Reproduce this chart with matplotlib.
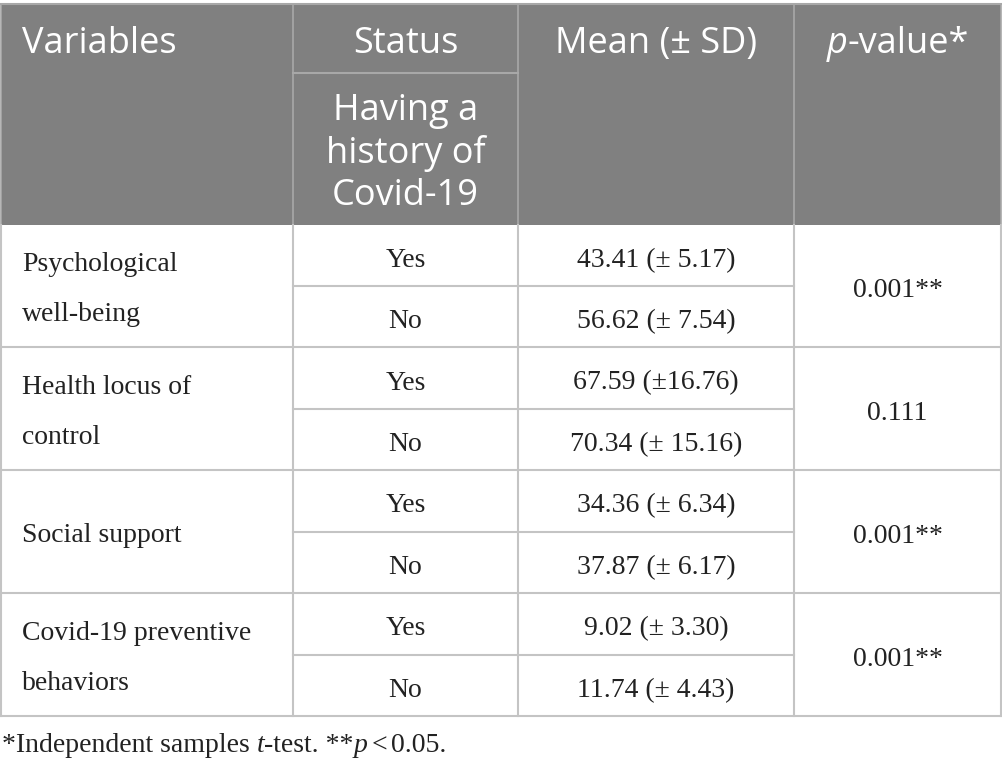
import matplotlib
matplotlib.use("Agg")
import matplotlib.pyplot as plt

# table content
variables = ["Psychological\nwell-being", "Health locus of\ncontrol", "Social support",
             "Covid-19 preventive\nbehaviors"]
status = ["Yes", "No"]
means = [["43.41 (\u00b1 5.17)", "56.62 (\u00b1 7.54)"],
         ["67.59 (\u00b116.76)", "70.34 (\u00b1 15.16)"],
         ["34.36 (\u00b1 6.34)", "37.87 (\u00b1 6.17)"],
         ["9.02 (\u00b1 3.30)", "11.74 (\u00b1 4.43)"]]
p_values = ["0.001**", "0.111", "0.001**", "0.001**"]
header_sub = ["Having a", "history of", "Covid-19"]

W, H = 1003, 770
fig = plt.figure(figsize=(W / 100, H / 100), dpi=100)
ax = fig.add_axes([0, 0, 1, 1])
ax.set_xlim(0, W)
ax.set_ylim(H, 0)
ax.axis("off")

HEAD_FONT = "Open Sans"
BODY_FONT = "Liberation Serif"
HS = 26
BS = 20
TXT = "#222222"

cols = [1, 293, 518, 794, 1001]
top, sub_y, head_bot, bot = 4, 73, 224.5, 716
row_h = (bot - head_bot) / 8
head_bg = "#808080"
head_line = "#a8a8a8"
body_line = "#c4c4c4"

# header
ax.add_patch(plt.Rectangle((cols[0], top), cols[-1] - cols[0], head_bot - top,
                           facecolor=head_bg, edgecolor="none"))
ax.plot([cols[0], cols[-1]], [top, top], color=head_line, lw=1.5)
for x in cols:
    ax.plot([x, x], [top, head_bot], color=head_line, lw=1.2)
ax.plot([cols[1], cols[2]], [sub_y, sub_y], color=head_line, lw=1.5)

renderer = fig.canvas.get_renderer()


def seg_text(x, y, segs, size, family, color, align="center"):
    # segs: list of (text, italic, gap)
    pieces = []
    total = 0
    for s, it, gap in segs:
        t = ax.text(0, y, s, fontsize=size, family=family, color=color,
                    style="italic" if it else "normal", va="baseline", ha="left")
        w = t.get_window_extent(renderer).width
        pieces.append((t, gap, w))
        total += gap + w
    cur = x - total / 2 if align == "center" else x
    for t, gap, w in pieces:
        cur += gap
        t.set_x(cur)
        cur += w


ax.text(22, 53, "Variables", fontsize=HS, family=HEAD_FONT, color="white", va="baseline")
ax.text((cols[1] + cols[2]) / 2, 53, "Status", fontsize=HS, family=HEAD_FONT,
        color="white", va="baseline", ha="center")
ax.text((cols[2] + cols[3]) / 2, 53, "Mean (\u00b1 SD)", fontsize=HS, family=HEAD_FONT,
        color="white", va="baseline", ha="center")
seg_text((cols[3] + cols[4]) / 2, 53, [("p", True, 0), ("-value*", False, 0)],
         HS, HEAD_FONT, "white")
for i, line in enumerate(header_sub):
    ax.text((cols[1] + cols[2]) / 2, 120 + i * 42.5, line, fontsize=HS, family=HEAD_FONT,
            color="white", va="baseline", ha="center")

# body grid
for x in cols:
    ax.plot([x, x], [head_bot, bot], color=body_line, lw=1.5)
for r in range(1, 9):
    y = head_bot + r * row_h
    if r % 2 == 0:
        ax.plot([cols[0], cols[-1]], [y, y], color=body_line, lw=1.5)
    else:
        ax.plot([cols[1], cols[3]], [y, y], color=body_line, lw=1.5)

for g, var in enumerate(variables):
    block_c = head_bot + (2 * g + 1) * row_h
    lines = var.split("\n")
    if len(lines) == 2:
        ax.text(22, block_c + 10 - 25, lines[0], fontsize=BS, family=BODY_FONT,
                color=TXT, va="baseline")
        ax.text(22, block_c + 10 + 25, lines[1], fontsize=BS, family=BODY_FONT,
                color=TXT, va="baseline")
    else:
        ax.text(22, block_c + 10, var, fontsize=BS, family=BODY_FONT,
                color=TXT, va="baseline")
    for k in range(2):
        rc = head_bot + (2 * g + k + 0.5) * row_h
        ax.text((cols[1] + cols[2]) / 2, rc + 11.5, status[k], fontsize=BS,
                family=BODY_FONT, color=TXT, va="baseline", ha="center")
        ax.text((cols[2] + cols[3]) / 2, rc + 11.5, means[g][k], fontsize=BS,
                family=BODY_FONT, color=TXT, va="baseline", ha="center")
    ax.text((cols[3] + cols[4]) / 2, block_c + 11.5, p_values[g], fontsize=BS,
            family=BODY_FONT, color=TXT, va="baseline", ha="center")

# footnote
seg_text(2, 752, [("*Independent samples", False, 0), ("t", True, 7),
                  ("-test. **", False, 0), ("p", True, 0), ("<", False, 4),
                  ("0.05.", False, 4)],
         BS, BODY_FONT, TXT, align="left")

fig.savefig("out.png", dpi=100)
